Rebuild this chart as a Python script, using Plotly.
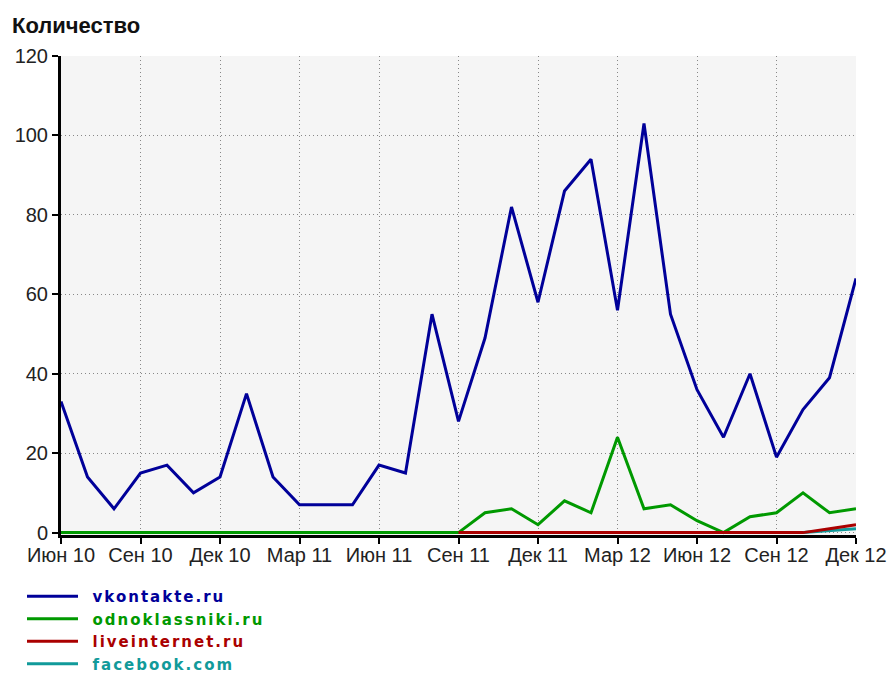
import plotly.graph_objects as go

# Monthly categories Jun 2010 .. Dec 2012
months = ["2010-06", "2010-07", "2010-08", "2010-09", "2010-10", "2010-11", "2010-12",
          "2011-01", "2011-02", "2011-03", "2011-04", "2011-05", "2011-06", "2011-07",
          "2011-08", "2011-09", "2011-10", "2011-11", "2011-12",
          "2012-01", "2012-02", "2012-03", "2012-04", "2012-05", "2012-06", "2012-07",
          "2012-08", "2012-09", "2012-10", "2012-11", "2012-12"]

tick_months = ["2010-06", "2010-09", "2010-12", "2011-03", "2011-06", "2011-09",
               "2011-12", "2012-03", "2012-06", "2012-09", "2012-12"]
tick_labels = ["Июн 10", "Сен 10", "Дек 10", "Мар 11", "Июн 11", "Сен 11",
               "Дек 11", "Мар 12", "Июн 12", "Сен 12", "Дек 12"]

vkontakte = [33, 14, 6, 15, 17, 10, 14, 35, 14, 7, 7, 7, 17, 15, 55, 28,
             49, 82, 58, 86, 94, 56, 103, 55, 36, 24, 40, 19, 31, 39, 64]
odnoklassniki = [0, 0, 0, 0, 0, 0, 0, 0, 0, 0, 0, 0, 0, 0, 0, 0,
                 5, 6, 2, 8, 5, 24, 6, 7, 3, 0, 4, 5, 10, 5, 6]
liveinternet = [None] * 15 + [0, 0, 0, 0, 0, 0, 0, 0, 0, 0, 0, 0, 0, 0, 1, 2]
facebook = [None] * 28 + [0, 0.5, 1]

series = [
    ("odnoklassniki.ru", odnoklassniki, "#009900", 2),
    ("facebook.com", facebook, "#119a9a", 4),
    ("liveinternet.ru", liveinternet, "#aa0000", 3),
    ("vkontakte.ru", vkontakte, "#000099", 1),
]

fig = go.Figure()
for name, vals, color, rank in series:
    fig.add_trace(go.Scatter(
        x=months, y=vals, mode="lines",
        line=dict(color=color, width=3),
        name=(f'&nbsp;&nbsp;<span style="color:{color};letter-spacing:2px">'
              f'<b>{name}</b></span>'),
        legendrank=rank,
    ))

grid = dict(showgrid=True, gridcolor="#888888", griddash="1px,3px", gridwidth=1)
axis_common = dict(showline=True, linewidth=3, linecolor="black",
                   ticks="outside", ticklen=6, tickwidth=2, tickcolor="black",
                   zeroline=False, automargin=False,
                   tickfont=dict(family="Liberation Sans, Arial, sans-serif",
                                 size=20, color="#222"))

fig.update_layout(
    width=887, height=673,
    margin=dict(l=61, r=31, t=56, b=138, autoexpand=False),
    paper_bgcolor="white",
    plot_bgcolor="#f5f5f5",
    font=dict(family="Liberation Sans, Arial, sans-serif", size=18, color="#222"),
    title=dict(text="<b>Количество</b>", x=12 / 887, xanchor="left",
               y=1 - 25 / 673, yanchor="middle", yref="container",
               font=dict(family="Liberation Sans, Arial, sans-serif", size=22, color="#111")),
    showlegend=True,
    legend=dict(xref="container", yref="container",
                x=22 / 887, xanchor="left", y=1 - 580 / 673, yanchor="top",
                orientation="v", bgcolor="rgba(0,0,0,0)",
                font=dict(family="DejaVu Sans, Verdana, sans-serif", size=15),
                itemwidth=51, tracegroupgap=0),
    xaxis=dict(
        type="category", categoryorder="array", categoryarray=months,
        range=[0, 30],
        tickvals=tick_months, ticktext=tick_labels, tickangle=0,
        ticklabelstandoff=-6,
        **grid, **axis_common,
    ),
    yaxis=dict(
        range=[-0.6, 120], tickvals=[0, 20, 40, 60, 80, 100, 120],
        **grid, **axis_common,
    ),
)

fig.write_html("out.html", config={"displayModeBar": False},
               post_script="document.body.style.margin='0';")
